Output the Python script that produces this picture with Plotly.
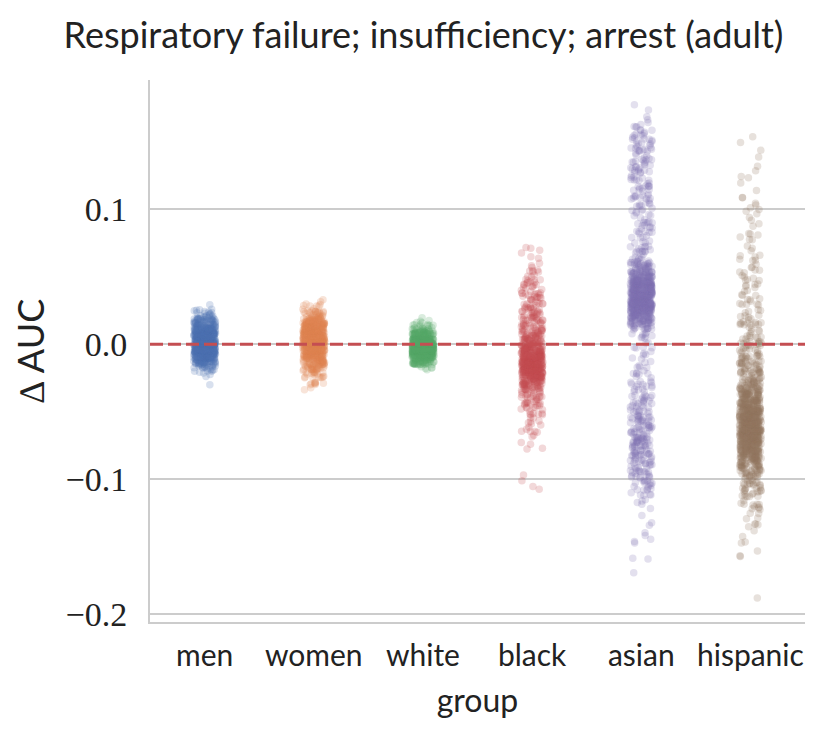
import math
import plotly.graph_objects as go

# bootstrap AUC differences, binned: count of points per 0.005 bin,
# first bin starts at the *_lo value
BIN = 0.005
groups = ["men", "women", "white", "black", "asian", "hispanic"]

men_lo = -0.030
men_counts = [1, 5, 20, 60, 105, 130, 120, 100, 70, 38, 14, 4]

women_lo = -0.035
women_counts = [3, 7, 18, 30, 50, 75, 100, 105, 100, 80, 50, 24, 8, 2]

white_lo = -0.020
white_counts = [6, 55, 160, 190, 150, 65, 20, 5]

black_lo = -0.110
black_counts = [2, 1, 1, 0, 0, 0, 2, 2, 3, 5, 5, 8, 9, 13, 17, 24, 42, 70, 90,
                90, 70, 50, 34, 26, 21, 18, 16, 14, 13, 12, 10, 9, 6, 4, 2, 2, 2]

asian_lo = -0.170
asian_counts = [1, 0, 2, 0, 2, 2, 1, 2, 1, 1, 4, 5, 7, 10, 11, 13, 15, 17, 17, 17,
                17, 15, 14, 13, 11, 10, 8, 8, 7, 7, 5, 4, 4, 4, 4, 7, 18, 38, 60,
                80, 90, 90, 80, 60, 40, 25, 14, 8, 7, 7, 7, 7, 7, 8, 8, 8, 8, 9,
                9, 9, 9, 9, 9, 9, 9, 8, 5, 2, 1, 1]

hispanic_lo = -0.190
hispanic_counts = [1, 0, 0, 0, 0, 0, 2, 1, 2, 1, 2, 3, 4, 5, 6, 8, 11, 14, 18,
                   23, 32, 45, 58, 65, 70, 70, 70, 65, 58, 48, 38, 28, 22, 19,
                   16, 15, 14, 12, 11, 9, 8, 8, 6, 6, 5, 5, 5, 5, 4, 4, 4, 3, 2,
                   3, 3, 2, 2, 3, 3, 2, 1, 1, 2, 1, 1, 1, 1, 1, 1]

yticks = [-0.2, -0.1, 0.0, 0.1]
ytick_text = ["\u22120.2", "\u22120.1", "0.0", "0.1"]

colors = ["#4C72B0", "#DD8452", "#55A868", "#C44E52", "#8172B3", "#937860"]

binned = [
    (men_lo, men_counts),
    (women_lo, women_counts),
    (white_lo, white_counts),
    (black_lo, black_counts),
    (asian_lo, asian_counts),
    (hispanic_lo, hispanic_counts),
]


def scatter_frac(n, seed):
    # deterministic hash in [0, 1), used as strip jitter
    v = math.sin(n * 12.9898 + seed * 78.233) * 43758.5453
    return v - math.floor(v)


fig = go.Figure()
for gi, (lo, counts) in enumerate(binned):
    xs, ys = [], []
    k = 0
    for b, c in enumerate(counts):
        for _ in range(c):
            k += 1
            xs.append(gi + (scatter_frac(k, gi + 1) - 0.5) * 0.2)
            ys.append(lo + (b + scatter_frac(k, gi + 11)) * BIN)
    fig.add_trace(go.Scatter(
        x=xs, y=ys, mode="markers",
        marker=dict(size=7.5, color=colors[gi], opacity=0.22, line_width=0),
        name=groups[gi], showlegend=False, hoverinfo="y",
    ))

# zero reference line
fig.add_shape(type="line", xref="paper", yref="y", x0=0, x1=1, y0=0, y1=0,
              line=dict(color="#C44E52", width=3, dash="13px,5px"), layer="above")

fig.update_layout(
    width=831, height=734,
    margin=dict(l=142, r=34, t=72, b=120),
    paper_bgcolor="white", plot_bgcolor="white",
    title=dict(text="Respiratory failure; insufficiency; arrest (adult)",
               x=0.5, xanchor="center", y=0.962, yanchor="middle",
               font=dict(family="Lato", size=36, color="#222222")),
    font=dict(family="Lato", color="#222222"),
)
fig.update_xaxes(
    range=[-0.5, 5.5], tickvals=list(range(len(groups))), ticktext=groups,
    showgrid=False, zeroline=False, showline=True, linecolor="#cccccc", linewidth=2,
    tickfont=dict(family="Lato", size=30, color="#222222"), ticks="",
    ticklabelstandoff=6,
    title=dict(text="group", font=dict(family="Lato", size=32, color="#222222"), standoff=19),
)
fig.update_yaxes(
    range=[-0.206, 0.196], tickvals=yticks, ticktext=ytick_text,
    showgrid=True, gridcolor="#cccccc", gridwidth=1.5, zeroline=False,
    showline=True, linecolor="#cccccc", linewidth=2, ticks="",
    ticklabelstandoff=14,
    tickfont=dict(family="Liberation Serif", size=34, color="#222222"),
    title=dict(text="\u2206 AUC", font=dict(family="Lato", size=36, color="#222222"), standoff=20),
)

fig.write_html("out.html")
